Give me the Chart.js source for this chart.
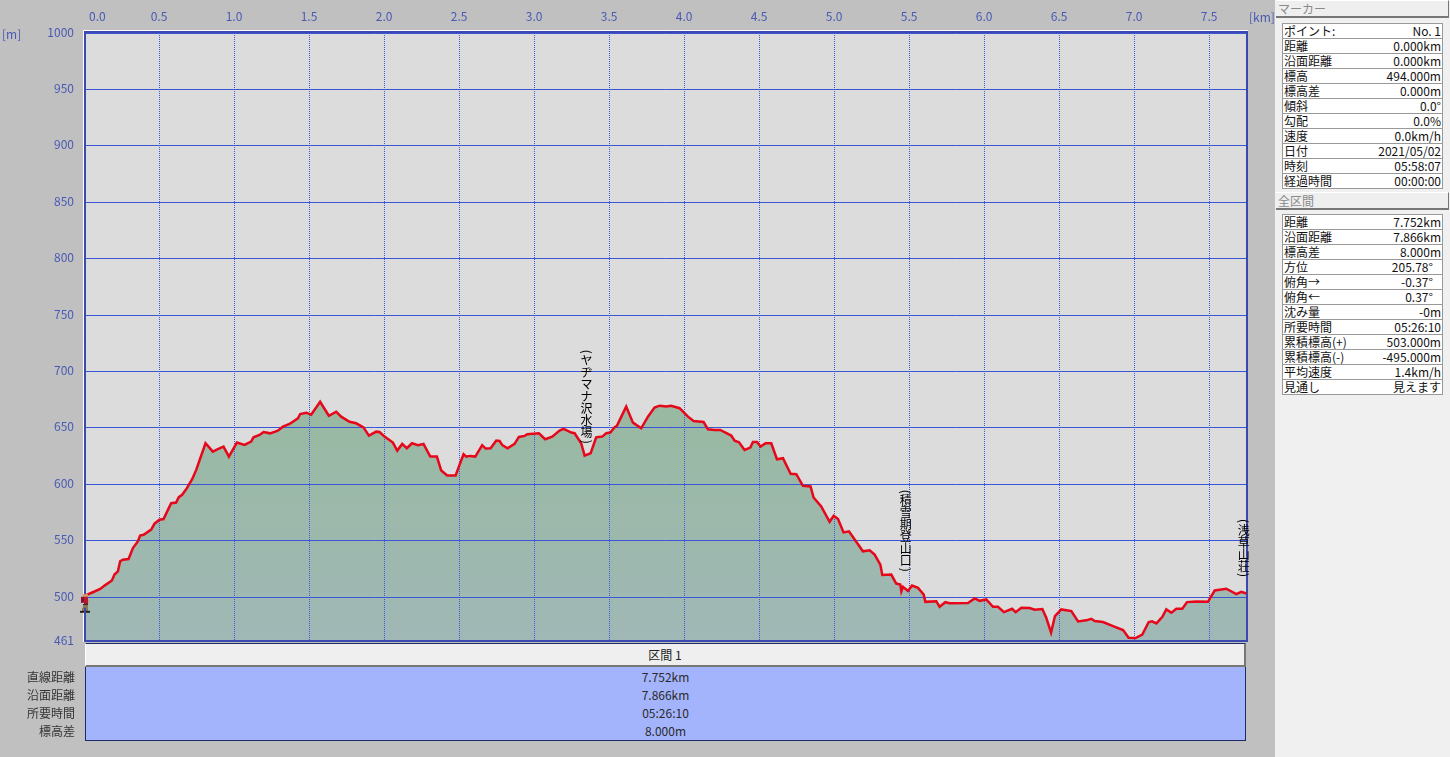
<!DOCTYPE html>
<html lang="ja">
<head>
<meta charset="utf-8">
<script src="https://cdn.jsdelivr.net/npm/chart.js@4"></script>
<style>
  html, body { margin: 0; padding: 0; width: 1450px; height: 757px; overflow: hidden; background: #c0c0c0;
    font: 12px "Noto Sans CJK JP", sans-serif; color: #222; }
  .abs { position: absolute; }
  #plotBg { left: 85px; top: 32px; width: 1163px; height: 609px; background: #dcdcdc; }
  canvas#profile { position: absolute; left: 0; top: 0; }
  .unit { color: #4a5ab4; }
  #side { left: 1275px; top: 0; width: 175px; height: 757px; background: #f0f0f0; }
  .bar { position: absolute; left: 1px; width: 172px; height: 15px; line-height: 15px; background: #efefef; color: #8a8a8a;
    border-right: 1px solid #777; border-bottom: 2px solid #777; border-top: 1px solid #fff; font-size: 12px; text-indent: 2px; }
  table { position: absolute; left: 7px; width: 161px; border-collapse: collapse; background: #fff; table-layout: fixed; }
  td { border: 1px solid #999; height: 14px; padding: 0 1px; line-height: 14px; font-size: 12px; color: #111; white-space: pre; overflow: hidden; }
  td:last-child { text-align: right; }
  td:first-child { border-right: 0; }
  td:last-child { border-left: 0; }
  #secHead { left: 85px; top: 643px; width: 1161px; height: 24px; line-height: 22px; background: #efefef; text-align: center; box-sizing: border-box;
    border-top: 1px solid #1c2a6a; border-left: 1px solid #fff; border-right: 2px solid #777; border-bottom: 2px solid #777; }
  #secBody { left: 85px; top: 667px; width: 1161px; height: 74px; background: #a4b4fc; border-right: 1px solid #1c2a6a; border-bottom: 1px solid #1c2a6a; border-left: 1px solid #1c2a6a; box-sizing: border-box; }
  .secVal { position: absolute; left: 0; right: 0; text-align: center; height: 18px; line-height: 18px; color: #2a2a2a; }
  .secLab { position: absolute; right: 1375px; height: 18px; line-height: 18px; color: #333; white-space: nowrap; }
</style>
</head>
<body>
<div id="plotBg" class="abs"></div>
<canvas id="profile" width="1450" height="757"></canvas>
<div class="abs unit" style="left:2px;top:25px">[m]</div>
<div class="abs unit" style="left:1249px;top:8px">[km]</div>
<div id="secHead" class="abs">区間 1</div>
<div id="secBody" class="abs"></div>
<div id="side" class="abs"></div>

<script>
// 距離 [km]
const distKm = [
  0, 0.014, 0.059, 0.108, 0.137, 0.186, 0.203, 0.226, 0.241, 0.259, 0.297, 0.326, 0.359, 0.374, 0.397, 0.448, 0.470, 0.503, 0.530,
  0.581, 0.614, 0.632, 0.654, 0.686, 0.721, 0.748, 0.810, 0.859, 0.892, 0.930, 0.966, 1.019, 1.070, 1.114, 1.130, 1.170, 1.197,
  1.241, 1.292, 1.326, 1.370, 1.426, 1.441, 1.481, 1.514, 1.574, 1.632, 1.681, 1.714, 1.770, 1.814, 1.863, 1.899, 1.948, 1.970,
  2.003, 2.059, 2.088, 2.121, 2.152, 2.186, 2.226, 2.263, 2.308, 2.352, 2.381, 2.421, 2.477, 2.503, 2.530, 2.548, 2.574, 2.608,
  2.654, 2.677, 2.710, 2.748, 2.770, 2.788, 2.823, 2.870, 2.899, 2.937, 2.954, 3.032, 3.074, 3.121, 3.170, 3.197, 3.248, 3.270,
  3.314, 3.337, 3.377, 3.414, 3.454, 3.481, 3.508, 3.537, 3.552, 3.614, 3.659, 3.714, 3.759, 3.803, 3.837, 3.881, 3.914, 3.970,
  4.026, 4.063, 4.130, 4.159, 4.203, 4.241, 4.314, 4.337, 4.366, 4.403, 4.441, 4.459, 4.486, 4.510, 4.543, 4.581, 4.619, 4.659,
  4.710, 4.748, 4.792, 4.843, 4.863, 4.914, 4.970, 4.997, 5.026, 5.063, 5.099, 5.192, 5.237, 5.270, 5.308, 5.321, 5.381, 5.414,
  5.441, 5.448, 5.459, 5.492, 5.519, 5.559, 5.597, 5.608, 5.681, 5.703, 5.741, 5.770, 5.892, 5.937, 5.970, 6.014, 6.059, 6.092,
  6.132, 6.186, 6.210, 6.248, 6.303, 6.337, 6.388, 6.414, 6.446, 6.472, 6.514, 6.581, 6.626, 6.681, 6.714, 6.737, 6.792, 6.859,
  6.926, 6.963, 7.010, 7.054, 7.097, 7.119, 7.148, 7.188, 7.214, 7.248, 7.281, 7.321, 7.352, 7.414, 7.492, 7.537, 7.614, 7.681,
  7.714, 7.748
];
// 標高 [m]
const elevM = [
  500.7, 501.6, 504.2, 507.2, 510.1, 514.6, 519.9, 522.8, 531.7, 533.1, 533.7, 543.4, 549.3, 554.4, 555.2, 559.7, 565.0, 568.5, 569.1,
  583.2, 583.8, 588.5, 590.6, 596.5, 604.5, 612.7, 636.3, 628.9, 631.0, 633.3, 624.5, 636.9, 634.8, 637.8, 641.6, 643.7, 646.3,
  645.1, 647.5, 651.0, 653.4, 658.4, 662.2, 663.4, 661.6, 673.1, 660.7, 664.3, 659.9, 655.4, 654.0, 650.4, 643.1, 646.6, 646.3,
  642.2, 636.9, 629.8, 635.7, 631.9, 636.3, 634.6, 635.7, 624.5, 624.5, 612.2, 607.7, 607.7, 617.2, 626.6, 624.5, 625.1, 624.5,
  634.6, 631.6, 631.9, 638.7, 638.4, 634.6, 631.9, 635.7, 641.9, 642.8, 644.3, 645.2, 639.9, 642.2, 647.5, 649.0, 645.8, 645.2,
  636.3, 625.4, 627.5, 641.6, 642.2, 645.2, 645.8, 650.5, 651.7, 668.8, 654.6, 649.6, 659.9, 667.9, 669.6, 668.8, 669.6, 667.4,
  659.9, 656.0, 655.1, 648.7, 648.1, 648.1, 643.1, 638.6, 637.2, 630.4, 632.5, 637.5, 637.5, 633.3, 636.3, 636.3, 622.1, 623.0,
  609.2, 608.9, 598.6, 598.0, 588.2, 580.3, 566.7, 572.0, 569.1, 557.3, 558.2, 540.5, 541.4, 537.6, 528.7, 519.6, 519.9, 511.9,
  511.0, 505.1, 509.0, 505.4, 510.1, 508.1, 502.2, 495.7, 496.3, 491.3, 495.4, 494.4, 494.6, 498.7, 496.6, 497.8, 491.3, 491.3,
  486.6, 489.6, 486.6, 490.5, 490.2, 488.7, 489.3, 481.6, 468.4, 483.1, 489.0, 487.5, 478.4, 479.3, 480.7, 478.7, 477.8, 474.2,
  470.7, 463.9, 463.6, 466.6, 477.8, 478.4, 476.6, 482.5, 489.0, 486.0, 489.6, 489.6, 495.5, 496.1, 495.8, 505.8, 507.3, 502.5,
  504.6, 503.1
];
const yTicks = [461, 500, 550, 600, 650, 700, 750, 800, 850, 900, 950, 1000];
const xTicks = [0, 0.5, 1, 1.5, 2, 2.5, 3, 3.5, 4, 4.5, 5, 5.5, 6, 6.5, 7, 7.5];
const xMax = 7.752;

const markerKm = [0];
const markerElev = [494];

// 経由地のラベル
const wayNames = ['ヤヂマナ沢水場', '積雪期登山口', '浅草山荘'];
const wayKm = [3.35, 5.477, 7.73];
const wayTopElev = [720, 596, 570];  // 文字列の上端

const sectionLabels = ['直線距離', '沿面距離', '所要時間', '標高差'];
const sectionValues = ['7.752km', '7.866km', '05:26:10', '8.000m'];

const markerNames = ['ポイント:', '距離', '沿面距離', '標高', '標高差', '傾斜', '勾配', '速度', '日付', '時刻', '経過時間'];
const markerVals = ['No. 1', '0.000km', '0.000km', '494.000m', '0.000m', '0.0°', '0.0%', '0.0km/h', '2021/05/02', '05:58:07', '00:00:00'];
const totalNames = ['距離', '沿面距離', '標高差', '方位', '俯角→', '俯角←', '沈み量', '所要時間', '累積標高(+)', '累積標高(-)', '平均速度', '見通し'];
const totalVals = ['7.752km', '7.866km', '8.000m', '205.78°   ', '-0.37°   ', '0.37°   ', '-0m', '05:26:10', '503.000m', '-495.000m', '1.4km/h', '見えます'];

const FONT = '"Noto Sans CJK JP", sans-serif';
const tickBlue = '#4a5ab4';

// side panel
function addTable(parent, names, vals, top) {
  const t = document.createElement('table');
  t.style.top = top + 'px';
  names.forEach((n, i) => {
    const tr = t.insertRow();
    tr.insertCell().textContent = n;
    tr.insertCell().textContent = vals[i];
  });
  parent.appendChild(t);
}
const side = document.getElementById('side');
side.innerHTML = '<div class="bar" style="top:0">マーカー</div><div class="bar" style="top:192px">全区間</div>';
addTable(side, markerNames, markerVals, 23);
addTable(side, totalNames, totalVals, 214);

// bottom block
const secBody = document.getElementById('secBody');
sectionValues.forEach((v, i) => {
  const d = document.createElement('div');
  d.className = 'secVal';
  d.style.top = (1 + i * 18) + 'px';
  d.textContent = v;
  secBody.appendChild(d);
  const l = document.createElement('div');
  l.className = 'secLab abs';
  l.style.top = (668 + i * 18) + 'px';
  l.textContent = sectionLabels[i];
  document.body.appendChild(l);
});

// little hiker icon for the marker
function hikerIcon() {
  const c = document.createElement('canvas');
  c.width = 12; c.height = 20;
  const g = c.getContext('2d');
  const rects = [
    ['#d89060', 5, 0, 5, 3], ['#8a1030', 3, 3, 3, 6], ['#b81838', 6, 3, 4, 7], ['#d89060', 10, 6, 1, 3], ['#301818', 5, 10, 5, 1],
    ['#8a7850', 5, 11, 3, 3], ['#8a7850', 4, 14, 2, 3], ['#8a7850', 8, 11, 2, 6], ['#282018', 2, 17, 4, 2], ['#282018', 8, 17, 4, 2]
  ];
  rects.forEach(r => { g.fillStyle = r[0]; g.fillRect(r[1], r[2], r[3], r[4]); });
  return c;
}

// 枠線はデータより下に描く
const plotFrame = {
  id: 'plotFrame',
  beforeDatasetsDraw(chart) {
    const {ctx, chartArea: {left, top, right, bottom}} = chart;
    ctx.save();
    ctx.strokeStyle = '#ffffff';
    ctx.lineWidth = 1;
    ctx.beginPath();
    ctx.moveTo(83.5, bottom + 1); ctx.lineTo(83.5, 30.5); ctx.lineTo(right + 1, 30.5);
    ctx.stroke();
    ctx.strokeStyle = '#3a48b0';
    ctx.lineWidth = 2;
    ctx.strokeRect(left + 1, top - 1, right - left - 1, bottom - top + 1);
    ctx.restore();
  }
};

// 縦書きラベル
const wayLabels = {
  id: 'wayLabels',
  afterDatasetsDraw(chart) {
    const {ctx, scales: {x, y}} = chart;
    ctx.save();
    ctx.font = '12px ' + FONT;
    ctx.fillStyle = '#000';
    ctx.textAlign = 'center';
    ctx.textBaseline = 'middle';
    wayNames.forEach((name, i) => {
      const px = x.getPixelForValue(wayKm[i]);
      let py = y.getPixelForValue(wayTopElev[i]);
      const paren = (ch) => {
        ctx.save();
        ctx.translate(px, py + 3);
        ctx.rotate(Math.PI / 2);
        ctx.fillText(ch, 0, 0);
        ctx.restore();
        py += 6;
      };
      paren('(');
      for (const ch of name) {
        ctx.fillText(ch, px, py + 6);
        py += 12;
      }
      paren(')');
    });
    ctx.restore();
  }
};

const ctx = document.getElementById('profile').getContext('2d');
const fillGrad = ctx.createLinearGradient(0, 400, 0, 641);
fillGrad.addColorStop(0, '#98b9a1');
fillGrad.addColorStop(1, '#a0b8b6');

new Chart(ctx, {
  type: 'line',
  data: {
    datasets: [
      {
        data: markerKm.map((k, i) => ({x: k, y: markerElev[i]})),
        showLine: false,
        pointStyle: hikerIcon(),
        pointRadius: 9,
        clip: false,
        order: 0
      },
      {
        data: distKm.map((k, i) => ({x: k, y: elevM[i]})),
        borderColor: '#e6081a',
        borderWidth: 2.5,
        backgroundColor: fillGrad,
        fill: 'start',
        pointRadius: 0,
        tension: 0,
        order: 1
      }
    ]
  },
  options: {
    responsive: false,
    animation: false,
    events: [],
    layout: {padding: {left: 0, top: 0, right: 203, bottom: 116}},
    plugins: {
      legend: {display: false},
      tooltip: {enabled: false},
      filler: {drawTime: 'beforeDraw'}
    },
    scales: {
      x: {
        type: 'linear',
        position: 'top',
        min: 0,
        max: xMax,
        afterFit(scale) { scale.height = 33; },
        afterBuildTicks(scale) { scale.ticks = xTicks.map(v => ({value: v})); },
        grid: {color: '#3a58e0', lineWidth: 1, drawTicks: false},
        border: {display: false, dash: [1, 1]},
        ticks: {
          color: tickBlue,
          font: {family: FONT, size: 12},
          padding: 9,
          maxRotation: 0,
          autoSkip: false,
          // 左端の 0.0 だけ軸の内側に寄せる
          callback: v => (v === 0 ? '          0.0' : v.toFixed(1))
        }
      },
      y: {
        min: 461,
        max: 1000,
        afterFit(scale) { scale.width = 84; },
        afterBuildTicks(scale) { scale.ticks = yTicks.map(v => ({value: v})); },
        grid: {color: '#3a55d8', lineWidth: 1, drawTicks: false},
        border: {display: false},
        ticks: {
          color: tickBlue,
          font: {family: FONT, size: 12},
          padding: 10,
          labelOffset: -1,
          autoSkip: false,
          callback: v => String(v)
        }
      }
    }
  },
  plugins: [plotFrame, wayLabels]
});
</script>
</body>
</html>
